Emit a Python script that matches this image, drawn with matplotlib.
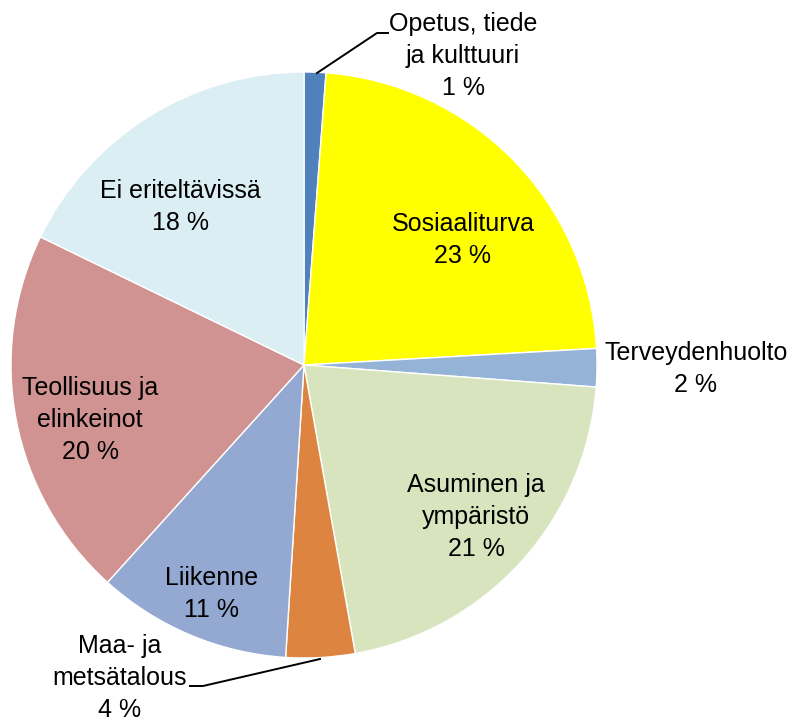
import matplotlib.pyplot as plt

# Pie data, clockwise from 12 o'clock
labels = ["Opetus, tiede\nja kulttuuri", "Sosiaaliturva", "Terveydenhuolto",
          "Asuminen ja\nympäristö", "Maa- ja\nmetsätalous", "Liikenne",
          "Teollisuus ja\nelinkeinot", "Ei eriteltävissä"]
values = [1.2, 22.9, 2.1, 21.0, 3.8, 10.7, 20.5, 17.8]
pct_labels = ["1 %", "23 %", "2 %", "21 %", "4 %", "11 %", "20 %", "18 %"]
colors = ["#4F81BD", "#FFFF00", "#95B3D7", "#D7E4BD", "#DD8540",
          "#94A9D1", "#D19391", "#DAEEF3"]

plt.rcParams['font.family'] = ['Liberation Sans Narrow', 'Liberation Sans', 'DejaVu Sans']

W, H = 793, 721
fig = plt.figure(figsize=(W / 100, H / 100), dpi=100)
ax = fig.add_axes([0, 0, 1, 1])

cx, cy, r = 304, H - 365, 293
ax.pie(values, colors=colors, startangle=90, counterclock=False,
       center=(cx, cy), radius=r, frame=True,
       wedgeprops=dict(edgecolor='white', linewidth=1))
ax.set_xlim(0, W)
ax.set_ylim(0, H)
ax.set_aspect('equal')
ax.axis('off')

# label centres in pixel coordinates (top-left origin)
label_pos = [(463, 56), (463, 240), (696, 369), (476, 517),
             (120, 678), (212, 594), (90, 420), (180, 207)]

for lab, pct, (x, y) in zip(labels, pct_labels, label_pos):
    ax.text(x, H - y, lab + "\n" + pct, ha='center', va='center',
            fontsize=18, linespacing=1.42, color='black')

# leader lines for the small slices
ax.plot([317, 377, 388], [H - 73, H - 33, H - 33], color='black', lw=1.4)
ax.plot([320, 203, 190], [H - 659, H - 686, H - 686], color='black', lw=1.4)

fig.savefig("out.png", dpi=100)
